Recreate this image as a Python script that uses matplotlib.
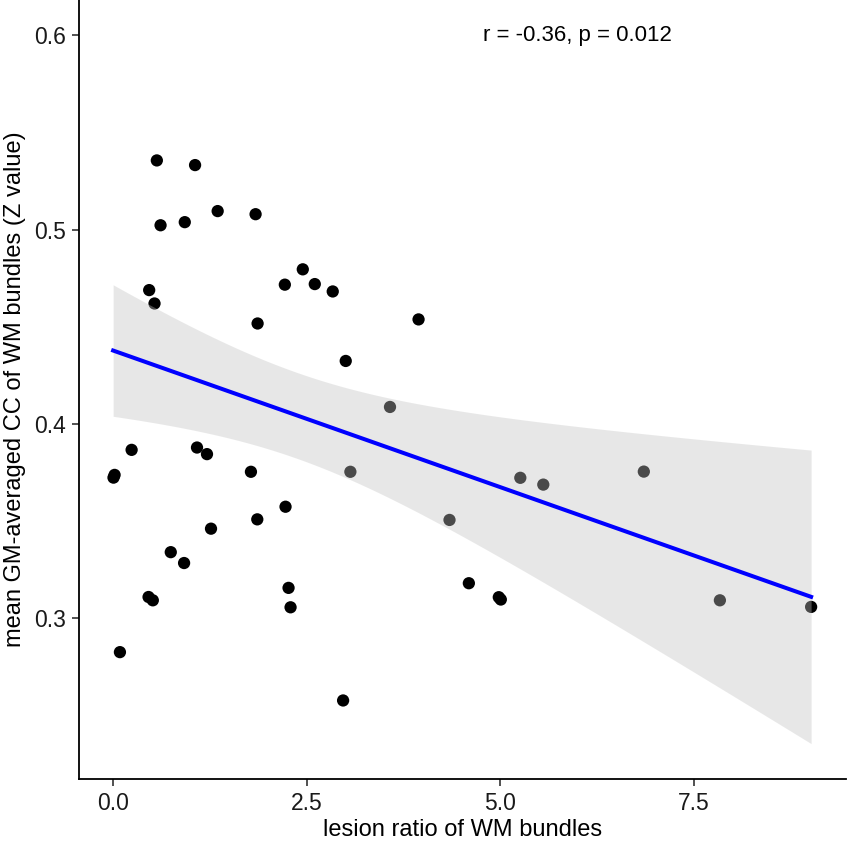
import matplotlib.pyplot as plt
import numpy as np

plt.rcParams['font.family'] = ['Liberation Sans', 'DejaVu Sans']

# values
lesion_ratio = [0.565, 1.059, 0.613, 0.926, 1.351, 1.841, 0.466, 0.535, 2.451, 2.219,
                2.606, 2.838, 1.867, 3.006, 0.239, 1.084, 1.213, 1.781, 3.066, 0.019,
                0.005, 2.228, 1.863, 1.265, 0.745, 0.917, 2.267, 2.293, 0.458, 0.513,
                0.088, 2.972, 3.947, 3.578, 5.262, 5.559, 4.347, 4.597, 4.984, 5.010,
                6.858, 7.841, 9.020]
mean_cc = [0.5356, 0.5332, 0.5022, 0.5038, 0.5095, 0.5079, 0.4688, 0.4619, 0.4795, 0.4716,
           0.4719, 0.4681, 0.4516, 0.4323, 0.3865, 0.3877, 0.3843, 0.3752, 0.3752, 0.3736,
           0.3722, 0.3572, 0.3507, 0.3459, 0.3338, 0.3282, 0.3154, 0.3054, 0.3107, 0.3090,
           0.2823, 0.2574, 0.4537, 0.4086, 0.3721, 0.3686, 0.3504, 0.3178, 0.3106, 0.3094,
           0.3753, 0.3090, 0.3056]

# the lm smoother band as read at a few x positions
band_x = [0.0, 2.165, 5.515, 9.02]
band_upper = [0.4713, 0.4294, 0.4015, 0.3860]
band_lower = [0.4035, 0.3851, 0.3199, 0.2348]

stat_label = 'r = -0.36, p = 0.012'
label_pos = (6.0, 0.6)
x_ticks = [0.0, 2.5, 5.0, 7.5]
y_ticks = [0.3, 0.4, 0.5, 0.6]

X = np.array(lesion_ratio)
Y = np.array(mean_cc)

BX = np.array(band_x)
BU = np.array(band_upper)
BL = np.array(band_lower)
# straight fit line through the band centres, half width squared is quadratic in x
LINE = np.polyfit(BX, (BU + BL) / 2, 1)
HW2 = np.polyfit(BX, ((BU - BL) / 2) ** 2, 2)
XS = np.linspace(BX.min(), BX.max(), 100)
FIT = np.polyval(LINE, XS)
HALF = np.sqrt(np.polyval(HW2, XS))
LOW, HIGH = FIT - HALF, FIT + HALF

fig = plt.figure(figsize=(8.5, 8.42), dpi=100)
ax = fig.add_axes([0.0925, 0.0748, 0.9028, 0.9252])

ax.scatter(X, Y, s=78, color='black', edgecolors='none', zorder=2)
ax.fill_between(XS, LOW, HIGH, color='#c3c3c3', alpha=0.384, linewidth=0, zorder=3)
ax.plot(XS, FIT, color='#0000ff', linewidth=2.9, zorder=4)

ax.text(label_pos[0], label_pos[1], stat_label, ha='center', va='center', fontsize=16)

# ggplot style 5% expansion including the label
xmin, xmax = min(X.min(), label_pos[0]), max(X.max(), label_pos[0])
ymin, ymax = min(Y.min(), LOW.min()), max(Y.max(), HIGH.max(), label_pos[1])
ax.set_xlim(xmin - 0.05 * (xmax - xmin), xmax + 0.05 * (xmax - xmin))
ax.set_ylim(ymin - 0.05 * (ymax - ymin), ymax + 0.05 * (ymax - ymin))

ax.set_xticks(x_ticks)
ax.set_xticklabels(['%.1f' % v for v in x_ticks])
ax.set_yticks(y_ticks)
ax.set_yticklabels(['%.1f' % v for v in y_ticks])
ax.tick_params(labelsize=16.5, length=5, width=1.2, color='#333333', labelcolor='#1a1a1a', pad=4)

for side in ['top', 'right']:
    ax.spines[side].set_visible(False)
for side in ['left', 'bottom']:
    ax.spines[side].set_linewidth(1.3)

ax.set_xlabel('lesion ratio of WM bundles', fontsize=17, labelpad=3)
ax.set_ylabel('mean GM-averaged CC of WM bundles (Z value)', fontsize=17, labelpad=6)

fig.savefig('out.png', dpi=100)
